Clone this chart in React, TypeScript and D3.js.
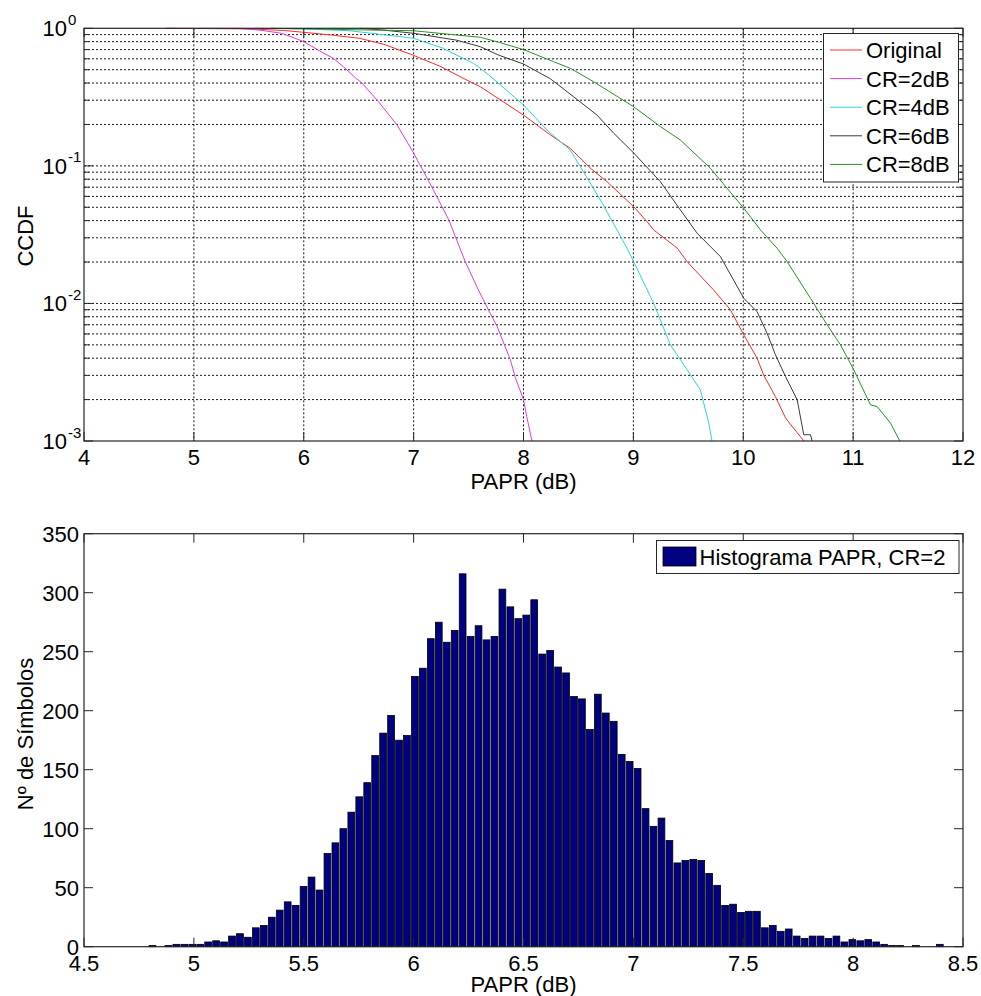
import React from "react";
import * as d3 from "d3";

// ---------- Data: CCDF curves (PAPR dB, CCDF) ----------
const origX = [4.75, 5.5, 5.815, 6.0, 6.27, 6.51, 6.73, 7.0, 7.24, 7.485, 7.607, 7.78, 8.0, 8.244, 8.426, 8.61, 8.76, 9.003, 9.124, 9.185, 9.4, 9.489, 9.731, 9.883, 10.005, 10.126, 10.187, 10.293, 10.385, 10.551];
const origY = [1, 0.99, 0.965, 0.935, 0.89, 0.845, 0.765, 0.635, 0.53, 0.42, 0.376, 0.305, 0.234, 0.168, 0.134, 0.096, 0.0767, 0.0505, 0.0393, 0.0342, 0.0252, 0.0201, 0.0125, 0.009, 0.0059, 0.004, 0.003, 0.0021, 0.00147, 0.001];

const cr2X = [4.75, 5.4, 5.6, 5.8, 6.0, 6.18, 6.27, 6.36, 6.48, 6.53, 6.68, 6.85, 7.0, 7.18, 7.32, 7.47, 7.59, 7.68, 7.76, 7.88, 7.925, 8.0, 8.03, 8.077];
const cr2Y = [1, 1, 0.97, 0.92, 0.8, 0.66, 0.605, 0.526, 0.43, 0.4, 0.293, 0.198, 0.124, 0.0668, 0.0405, 0.0201, 0.0125, 0.009, 0.0068, 0.0039, 0.0029, 0.002, 0.0015, 0.001];

const cr4X = [5.55, 6.0, 6.42, 7.0, 7.27, 7.33, 7.545, 7.607, 7.74, 8.0, 8.214, 8.426, 8.517, 8.7, 8.851, 8.942, 9.003, 9.185, 9.337, 9.489, 9.61, 9.686, 9.716];
const cr4Y = [1, 0.99, 0.96, 0.846, 0.716, 0.675, 0.557, 0.512, 0.42, 0.277, 0.182, 0.13, 0.0987, 0.0565, 0.0342, 0.0252, 0.0201, 0.01, 0.005, 0.0033, 0.00235, 0.00135, 0.001];

const cr6X = [6.51, 6.73, 7.0, 7.39, 7.607, 7.77, 8.0, 8.244, 8.456, 8.669, 8.82, 9.003, 9.246, 9.428, 9.58, 9.792, 10.005, 10.126, 10.217, 10.293, 10.385, 10.491, 10.551, 10.612, 10.627];
const cr6Y = [1, 0.97, 0.92, 0.82, 0.735, 0.64, 0.55, 0.43, 0.318, 0.234, 0.173, 0.124, 0.0767, 0.0478, 0.0324, 0.0219, 0.0109, 0.0087, 0.00607, 0.00423, 0.00294, 0.00199, 0.00111, 0.00111, 0.001];

const cr8X = [5.7, 7.0, 7.607, 7.78, 8.0, 8.274, 8.43, 8.638, 9.003, 9.246, 9.428, 9.701, 10.005, 10.157, 10.308, 10.4, 10.612, 10.764, 10.885, 11.006, 11.158, 11.219, 11.34, 11.425];
const cr8Y = [1, 0.96, 0.86, 0.79, 0.7, 0.572, 0.51, 0.409, 0.269, 0.193, 0.154, 0.096, 0.0492, 0.0342, 0.0252, 0.0201, 0.0109, 0.00698, 0.005, 0.00329, 0.00183, 0.00178, 0.00135, 0.001];

const seriesNames = ["Original", "CR=2dB", "CR=4dB", "CR=6dB", "CR=8dB"];
const seriesColors = ["#ff2a2a", "#e03ce0", "#30d4d4", "#3a3a3a", "#2a8f2a"];

const topXTicks = [4, 5, 6, 7, 8, 9, 10, 11, 12];
const topYExps = [0, -1, -2, -3];

// ---------- Data: histogram ----------
const histMin = 4.7935;
const histMax = 8.4126;
const histCounts = [
  1, 0, 1, 2, 2, 2, 2, 4, 5, 4,
  9, 11, 8, 16, 18, 25, 31, 38, 35, 51,
  59, 48, 79, 88, 100, 114, 127, 139, 162, 181,
  196, 175, 179, 229, 236, 261, 275, 258, 268, 316,
  263, 272, 260, 263, 303, 288, 278, 281, 294, 248,
  251, 237, 232, 212, 210, 184, 214, 198, 191, 163,
  157, 151, 117, 102, 109, 90, 71, 73, 74, 73,
  62, 52, 35, 36, 29, 30, 30, 16, 18, 13,
  15, 9, 7, 9, 9, 7, 9, 4, 6, 5,
  6, 4, 2, 1, 1, 0, 1, 0, 0, 2,
];
const botXTicks = [4.5, 5, 5.5, 6, 6.5, 7, 7.5, 8, 8.5];
const botYTicks = [0, 50, 100, 150, 200, 250, 300, 350];

const FONT = "'Liberation Sans', Arial, sans-serif";
const AXIS = "#262626";

export default function App() {
  const W = 981, H = 996;
  // top axes
  const tL = 84, tR = 963, tT = 28.3, tB = 441;
  const xT = d3.scaleLinear().domain([4, 12]).range([tL, tR]);
  const yT = d3.scaleLog().domain([1e-3, 1]).range([tB, tT]);
  // bottom axes
  const bL = 84, bR = 963, bT = 533.7, bB = 946.7;
  const xB = d3.scaleLinear().domain([4.5, 8.5]).range([bL, bR]);
  const yB = d3.scaleLinear().domain([0, 350]).range([bB, bT]);

  const seriesX = [origX, cr2X, cr4X, cr6X, cr8X];
  const seriesY = [origY, cr2Y, cr4Y, cr6Y, cr8Y];
  const line = d3
    .line<[number, number]>()
    .x((d) => xT(d[0]))
    .y((d) => yT(d[1]));

  const minorY: number[] = [];
  for (let e = -3; e < 0; e++) {
    for (let m = 2; m <= 9; m++) minorY.push(m * Math.pow(10, e));
  }
  const majorY = topYExps.map((e) => Math.pow(10, e));

  const binW = (histMax - histMin) / histCounts.length;

  return (
    <svg
      width={W}
      height={H}
      style={{ position: "absolute", left: 0, top: 0, background: "#fff" }}
      fontFamily={FONT}
    >
      <rect x={0} y={0} width={W} height={H} fill="#fff" />
      <defs>
        <clipPath id="clipTop">
          <rect x={tL} y={tT - 1} width={tR - tL} height={tB - tT + 1} />
        </clipPath>
      </defs>

      {/* ---------- TOP: grid ---------- */}
      <g stroke="#000" strokeWidth={0.9} strokeDasharray="2,2">
        {topXTicks.slice(1, -1).map((t) => (
          <line key={"gx" + t} x1={xT(t)} x2={xT(t)} y1={tT} y2={tB} />
        ))}
        {[...minorY, ...majorY.slice(1, -1)].map((v, i) => (
          <line key={"gy" + i} x1={tL} x2={tR} y1={yT(v)} y2={yT(v)} />
        ))}
      </g>

      {/* curves */}
      <g clipPath="url(#clipTop)" fill="none" strokeWidth={1}>
        {seriesX.map((xs, i) => (
          <path
            key={"c" + i}
            d={line(xs.map((x, j) => [x, seriesY[i][j]] as [number, number])) || ""}
            stroke={seriesColors[i]}
          />
        ))}
      </g>

      {/* ticks */}
      <g stroke={AXIS} strokeWidth={1}>
        {topXTicks.map((t) => (
          <g key={"tx" + t}>
            <line x1={xT(t)} x2={xT(t)} y1={tB} y2={tB - 9} />
            <line x1={xT(t)} x2={xT(t)} y1={tT} y2={tT + 9} />
          </g>
        ))}
        {majorY.map((v, i) => (
          <g key={"ty" + i}>
            <line x1={tL} x2={tL + 9} y1={yT(v)} y2={yT(v)} />
            <line x1={tR} x2={tR - 9} y1={yT(v)} y2={yT(v)} />
          </g>
        ))}
        {minorY.map((v, i) => (
          <g key={"tym" + i}>
            <line x1={tL} x2={tL + 5} y1={yT(v)} y2={yT(v)} />
            <line x1={tR} x2={tR - 5} y1={yT(v)} y2={yT(v)} />
          </g>
        ))}
      </g>
      <rect x={tL} y={tT} width={tR - tL} height={tB - tT} fill="none" stroke={AXIS} strokeWidth={1.2} />

      {/* tick labels */}
      <g fontSize={22} fill="#000">
        {topXTicks.map((t) => (
          <text key={"lx" + t} x={xT(t)} y={tB + 24} textAnchor="middle">
            {t}
          </text>
        ))}
        {topYExps.map((e) => (
          <g key={"ly" + e}>
            <text x={67} y={yT(Math.pow(10, e)) + 8} textAnchor="end">
              10
            </text>
            <text x={68} y={yT(Math.pow(10, e)) - 3.5} fontSize={15} textAnchor="start">
              {e === 0 ? "0" : String(e)}
            </text>
          </g>
        ))}
        <text x={(tL + tR) / 2} y={488.5} textAnchor="middle">
          PAPR (dB)
        </text>
        <text transform={`translate(33,236) rotate(-90)`} textAnchor="middle">
          CCDF
        </text>
      </g>

      {/* legend top */}
      <g>
        <rect x={823.5} y={33.5} width={135} height={148.5} fill="#fff" stroke={AXIS} strokeWidth={1} />
        {seriesNames.map((n, i) => {
          const yy = 50 + i * 28.6;
          return (
            <g key={"lg" + i}>
              <line x1={830} x2={862} y1={yy} y2={yy} stroke={seriesColors[i]} strokeWidth={1} />
              <text x={866} y={yy + 8} fontSize={22} fill="#000">
                {n}
              </text>
            </g>
          );
        })}
      </g>

      {/* ---------- BOTTOM: histogram ---------- */}
      <g fill="#000080" stroke="#000" strokeWidth={0.8}>
        {histCounts.map((c, i) =>
          c > 0 ? (
            <rect
              key={"b" + i}
              x={xB(histMin + i * binW) + 0.6}
              width={xB(histMin + (i + 1) * binW) - xB(histMin + i * binW) - 1.2}
              y={yB(c)}
              height={yB(0) - yB(c)}
            />
          ) : null
        )}
      </g>

      <g stroke={AXIS} strokeWidth={1}>
        {botXTicks.map((t) => (
          <g key={"bx" + t}>
            <line x1={xB(t)} x2={xB(t)} y1={bB} y2={bB - 9} />
            <line x1={xB(t)} x2={xB(t)} y1={bT} y2={bT + 9} />
          </g>
        ))}
        {botYTicks.map((t) => (
          <g key={"by" + t}>
            <line x1={bL} x2={bL + 9} y1={yB(t)} y2={yB(t)} />
            <line x1={bR} x2={bR - 9} y1={yB(t)} y2={yB(t)} />
          </g>
        ))}
      </g>
      <rect x={bL} y={bT} width={bR - bL} height={bB - bT} fill="none" stroke={AXIS} strokeWidth={1.2} />

      <g fontSize={22} fill="#000">
        {botXTicks.map((t) => (
          <text key={"blx" + t} x={xB(t)} y={bB + 24.5} textAnchor="middle">
            {t}
          </text>
        ))}
        {botYTicks.map((t) => (
          <text key={"bly" + t} x={79} y={yB(t) + 8} textAnchor="end">
            {t}
          </text>
        ))}
        <text x={(bL + bR) / 2} y={991.5} textAnchor="middle">
          PAPR (dB)
        </text>
        <text transform={`translate(33,734) rotate(-90)`} textAnchor="middle">
          Nº de Símbolos
        </text>
      </g>

      {/* legend bottom */}
      <g>
        <rect x={656.5} y={540.5} width={302.5} height={33} fill="#fff" stroke={AXIS} strokeWidth={1} />
        <rect x={663} y={547} width={33} height={19} fill="#000080" stroke="#000" strokeWidth={0.8} />
        <text x={699.5} y={565} fontSize={22} fill="#000">
          Histograma PAPR, CR=2
        </text>
      </g>
    </svg>
  );
}
